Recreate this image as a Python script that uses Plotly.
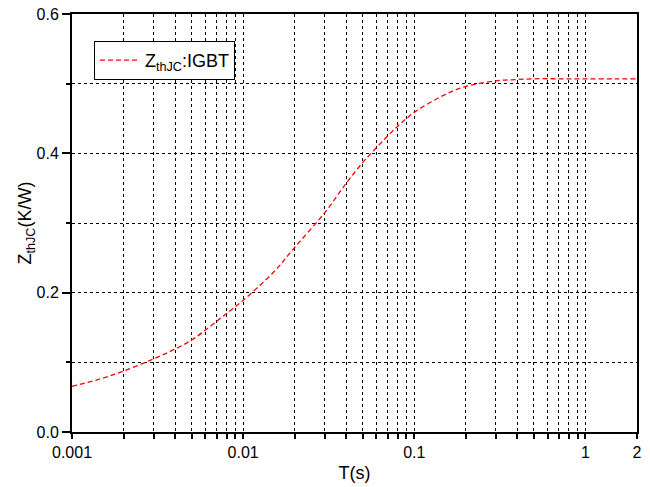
import plotly.graph_objects as go

# Data
time_s = [0.001, 0.0015, 0.002, 0.003, 0.004, 0.005, 0.006, 0.007, 0.008, 0.009,
          0.01, 0.015, 0.02, 0.03, 0.04, 0.05, 0.06, 0.07, 0.08, 0.09,
          0.1, 0.15, 0.2, 0.3, 0.4, 0.5, 0.7, 1.0, 1.5, 2.0]
zth_igbt = [0.0655, 0.077, 0.0875, 0.105, 0.119, 0.132, 0.146, 0.159, 0.170, 0.180,
            0.189, 0.229, 0.265, 0.315, 0.357, 0.387, 0.408, 0.425, 0.439, 0.450,
            0.459, 0.484, 0.496, 0.504, 0.506, 0.507, 0.507, 0.507, 0.507, 0.507]

x_tickvals = [0.001, 0.01, 0.1, 1, 2]
x_ticktext = ["0.001", "0.01", "0.1", "1", "2"]
x_minorvals = [m * d for d in (0.001, 0.01, 0.1) for m in range(2, 10)] + [1.0, 2.0]
y_tickvals = [0.0, 0.2, 0.4, 0.6]
y_ticktext = ["0.0", "0.2", "0.4", "0.6"]
y_minorvals = [0.1, 0.3, 0.5]

FONT = "Liberation Sans, Arial, sans-serif"

fig = go.Figure()
fig.add_trace(go.Scatter(
    x=time_s, y=zth_igbt, mode="lines", line_shape="spline",
    name="Z<sub>thJC</sub>:IGBT",
    line=dict(color="#ff0000", width=1.3, dash="5px,3px"),
))

fig.update_layout(
    width=650, height=487,
    margin=dict(l=72, r=13, t=14, b=55, autoexpand=False),
    paper_bgcolor="white", plot_bgcolor="white",
    font=dict(family=FONT, color="black", size=16),
    showlegend=True,
    legend=dict(
        x=0.039, y=0.889, xanchor="left", yanchor="middle",
        bordercolor="black", borderwidth=1, bgcolor="white",
        font=dict(size=18, family=FONT),
        itemwidth=40, tracegroupgap=0,
    ),
)

fig.update_xaxes(
    type="log", range=[-3, 0.30103], automargin=False,
    tickmode="array", tickvals=x_tickvals, ticktext=x_ticktext,
    ticks="outside", ticklen=5, tickwidth=1.5, tickcolor="black",
    showline=True, linecolor="black", linewidth=2, mirror=True,
    showgrid=True, gridcolor="black", gridwidth=1, griddash="dot",
    zeroline=False,
    tickfont=dict(size=16),
    title=dict(text="T(s)", font=dict(size=18), standoff=6),
    minor=dict(tickmode="array", tickvals=x_minorvals, ticks="outside", ticklen=5,
               tickwidth=1.5, tickcolor="black", showgrid=True,
               gridcolor="black", gridwidth=1, griddash="dot"),
)

fig.update_yaxes(
    range=[0, 0.6], automargin=False,
    tickmode="array", tickvals=y_tickvals, ticktext=y_ticktext,
    ticks="outside", ticklen=8, tickwidth=1.5, tickcolor="black",
    showline=True, linecolor="black", linewidth=2, mirror=True,
    showgrid=True, gridcolor="black", gridwidth=1, griddash="dot",
    zeroline=False,
    tickfont=dict(size=16),
    title=dict(text="Z<sub>thJC</sub>(K/W)", font=dict(size=18), standoff=0),
    minor=dict(tickmode="array", tickvals=y_minorvals, ticks="outside", ticklen=4,
               tickwidth=1.5, tickcolor="black", showgrid=True,
               gridcolor="black", gridwidth=1, griddash="dot"),
)

fig.write_html(
    "out.html",
    config={"displayModeBar": False},
    post_script="document.body.style.margin='0';document.body.style.overflow='hidden';",
)
